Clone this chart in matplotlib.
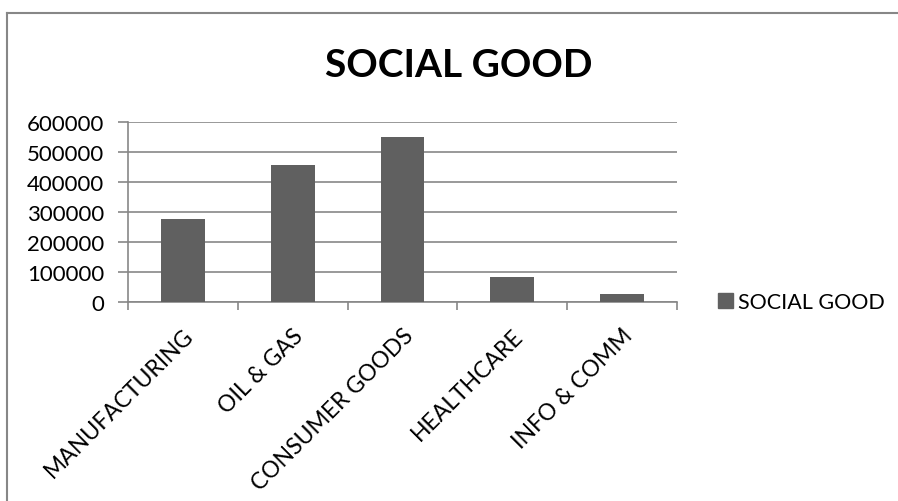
import matplotlib.pyplot as plt
from matplotlib.lines import Line2D
from matplotlib.patches import Patch

categories = ["MANUFACTURING", "OIL & GAS", "CONSUMER GOODS", "HEALTHCARE", "INFO & COMM"]
values = [278000, 458000, 550000, 83000, 28000]
series_name = "SOCIAL GOOD"
y_ticks = [0, 100000, 200000, 300000, 400000, 500000, 600000]

bar_color = "#606060"
axis_color = "#878787"
font = ["Lato", "DejaVu Sans"]

fig = plt.figure(figsize=(8.98, 5.02), dpi=100)
ax = fig.add_axes([0.1425, 0.3964, 0.6114, 0.3586])

x = list(range(len(categories)))
ax.bar(x, values, width=0.4, color=bar_color, zorder=3)

ax.set_xlim(-0.5, len(categories) - 0.5)
ax.set_ylim(0, 600000)
ax.set_yticks(y_ticks)
ax.set_yticklabels([str(v) for v in y_ticks], fontsize=16, family=font)

# category ticks sit at the boundaries, labels at the centres
ax.set_xticks([i - 0.5 for i in range(len(categories) + 1)])
ax.set_xticklabels([])
ax.set_xticks(x, minor=True)
ax.set_xticklabels(categories, minor=True, rotation=45, ha="right",
                   rotation_mode="anchor", fontsize=16.5, family=font)
ax.tick_params(axis="x", which="minor", length=0, pad=16)
ax.tick_params(axis="x", which="major", length=6, color=axis_color, width=1.2)
ax.tick_params(axis="y", length=7, color=axis_color, width=1.2, pad=10)

ax.grid(axis="y", color=axis_color, linewidth=1.2, zorder=0)
for side in ["top", "right"]:
    ax.spines[side].set_visible(False)
for side in ["left", "bottom"]:
    ax.spines[side].set_color(axis_color)
    ax.spines[side].set_linewidth(1.2)

fig.text(0.511, 0.8466, "SOCIAL GOOD", ha="center", va="baseline",
         fontsize=28, fontweight="bold", family=font)

fig.legend(handles=[Patch(color=bar_color, label=series_name)],
           loc="center left", bbox_to_anchor=(0.799, 0.397), frameon=False,
           prop={"family": font, "size": 15.5}, handlelength=0.7, handleheight=0.7,
           handletextpad=0.25, borderpad=0, borderaxespad=0)

# chart frame (top and left edges visible in the crop)
fig.add_artist(Line2D([0.008, 0.008], [0.0, 0.973], color=axis_color, linewidth=1.5,
                      transform=fig.transFigure))
fig.add_artist(Line2D([0.008, 1.0], [0.973, 0.973], color=axis_color, linewidth=1.5,
                      transform=fig.transFigure))

fig.savefig("out.png", dpi=100)
plt.close(fig)
